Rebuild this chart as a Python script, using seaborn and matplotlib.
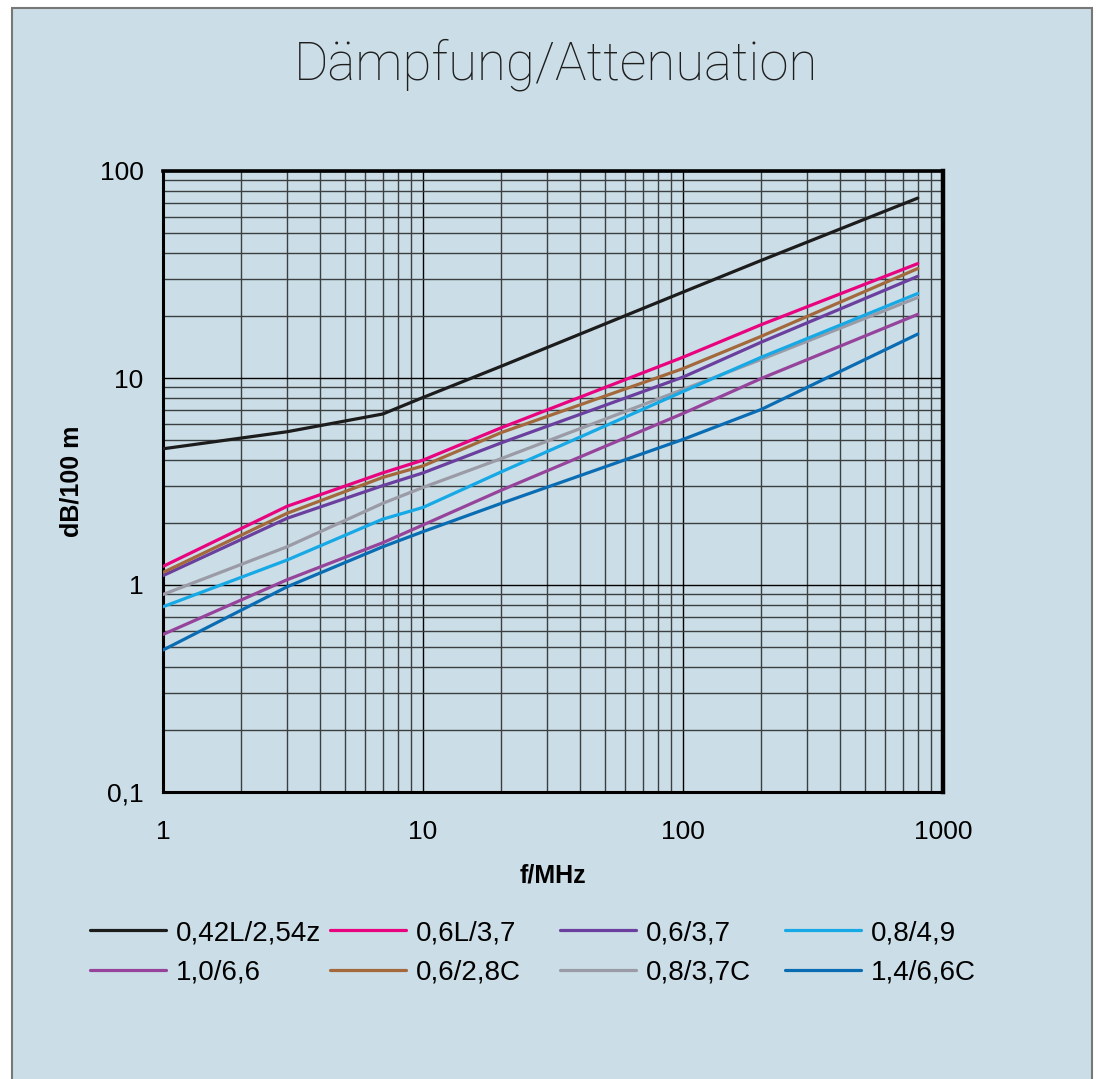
from matplotlib import pyplot as plt
from matplotlib.patches import Rectangle
from matplotlib.ticker import FixedLocator, FixedFormatter, LogLocator, NullFormatter
import numpy as np
import seaborn as sns
import pandas as pd

# frequencies in MHz and attenuation in dB/100 m
freq = [1, 3, 7, 10, 20, 100, 200, 800]

att_042L = [4.55, 5.5, 6.7, 8.05, 11.4, 26.0, 37.0, 74.0]
att_06L = [1.23, 2.40, 3.48, 4.01, 5.75, 12.6, 18.1, 35.7]
att_06 = [1.11, 2.10, 3.02, 3.48, 4.86, 10.1, 14.9, 31.0]
att_08 = [0.785, 1.32, 2.08, 2.37, 3.52, 8.6, 12.6, 25.6]
att_10 = [0.577, 1.06, 1.60, 1.95, 2.87, 6.74, 9.95, 20.3]
att_06C = [1.15, 2.22, 3.31, 3.76, 5.45, 11.1, 15.9, 33.8]
att_08C = [0.90, 1.53, 2.48, 2.96, 4.08, 8.8, 12.3, 24.5]
att_14C = [0.485, 0.98, 1.53, 1.81, 2.48, 5.05, 7.05, 16.3]

cables = ["0,42L/2,54z", "0,6L/3,7", "0,6/3,7", "0,8/4,9",
          "1,0/6,6", "0,6/2,8C", "0,8/3,7C", "1,4/6,6C"]
values = [att_042L, att_06L, att_06, att_08, att_10, att_06C, att_08C, att_14C]
colors = ["#1c1c1c", "#e8037f", "#6a3f9e", "#16a9e6",
          "#96449b", "#a3683b", "#9a9ba6", "#0a6db4"]

x_ticks = [1, 10, 100, 1000]
x_labels = ["1", "10", "100", "1000"]
y_ticks = [0.1, 1, 10, 100]
y_labels = ["0,1", "1", "10", "100"]

rows = []
for name, vals in zip(cables, values):
    for f, a in zip(freq, vals):
        rows.append({"cable": name, "f": f, "att": a})
df = pd.DataFrame(rows)

sns.set_style("white")
plt.rcParams['font.family'] = ['Liberation Sans', 'DejaVu Sans']
for key in ['text.color', 'axes.labelcolor', 'xtick.color', 'ytick.color']:
    plt.rcParams[key] = 'black'

bg = "#cbdde6"
W, H = 1098, 1079
fig = plt.figure(figsize=(W / 100, H / 100), dpi=100)
fig.patch.set_facecolor("white")
fig.patches.append(Rectangle((12 / W, -0.02), 1080 / W, 1.02 - 8 / H,
                             transform=fig.transFigure, facecolor=bg,
                             edgecolor="#777777", lw=1.5, zorder=-10))

left, right, top, bottom = 163, 943, 171, 792
ax = fig.add_axes([left / W, 1 - bottom / H, (right - left) / W, (bottom - top) / H])
ax.set_facecolor(bg)

# draw order: keep cyan above grey
draw_order = ["0,42L/2,54z", "1,0/6,6", "1,4/6,6C", "0,8/3,7C", "0,8/4,9",
              "0,6/3,7", "0,6/2,8C", "0,6L/3,7"]
palette = dict(zip(cables, colors))
for name in draw_order:
    sns.lineplot(data=df[df.cable == name], x="f", y="att", color=palette[name],
                 lw=2.3, ax=ax, label=name, estimator=None, sort=False, zorder=3)

ax.set_xscale("log")
ax.set_yscale("log")
ax.set_xlim(1, 1000)
ax.set_ylim(0.1, 100)

ax.xaxis.set_major_locator(FixedLocator(x_ticks))
ax.xaxis.set_major_formatter(FixedFormatter(x_labels))
ax.yaxis.set_major_locator(FixedLocator(y_ticks))
ax.yaxis.set_major_formatter(FixedFormatter(y_labels))
ax.xaxis.set_minor_locator(LogLocator(base=10, subs=np.arange(2, 10)))
ax.yaxis.set_minor_locator(LogLocator(base=10, subs=np.arange(2, 10)))
ax.xaxis.set_minor_formatter(NullFormatter())
ax.yaxis.set_minor_formatter(NullFormatter())

ax.grid(which="major", color="black", lw=1.0, zorder=1)
ax.grid(which="minor", color="#3c3f42", lw=1.0, zorder=1)
ax.set_axisbelow(True)
ax.tick_params(which="both", length=0)
ax.tick_params(axis="x", labelsize=19, pad=20)
ax.tick_params(axis="y", labelsize=19, pad=14)

for s in ax.spines.values():
    s.set_color("black")
    s.set_linewidth(2.2)
ax.spines["right"].set_linewidth(3.2)
ax.spines["top"].set_linewidth(2.6)

ax.set_xlabel("f/MHz", fontsize=18, fontweight="bold", labelpad=14)
ax.set_ylabel("dB/100 m", fontsize=18, fontweight="bold", labelpad=12)

fig.text(556 / W, 1 - 65 / H, "Dämpfung/Attenuation", ha="center", va="center",
         fontsize=38, fontweight="light", family=["Roboto", "DejaVu Sans"], color="#1e1e1e")

# legend: four fixed-width columns of two entries each
handles, labels = ax.get_legend_handles_labels()
lookup = dict(zip(labels, handles))
ax.get_legend().remove()
leg_cols = [["0,42L/2,54z", "1,0/6,6"], ["0,6L/3,7", "0,6/2,8C"],
            ["0,6/3,7", "0,8/3,7C"], ["0,8/4,9", "1,4/6,6C"]]
col_x = [90, 330, 560, 785]
for names, cx in zip(leg_cols, col_x):
    leg = fig.legend([lookup[n] for n in names], names, frameon=False,
                     loc="upper left", bbox_to_anchor=(cx / W, 1 - 920 / H),
                     bbox_transform=fig.transFigure, fontsize=20, handlelength=2.75,
                     handletextpad=0.35, labelspacing=0.5,
                     borderpad=0, borderaxespad=0)

fig.savefig("out.png", dpi=100, facecolor=fig.get_facecolor())
